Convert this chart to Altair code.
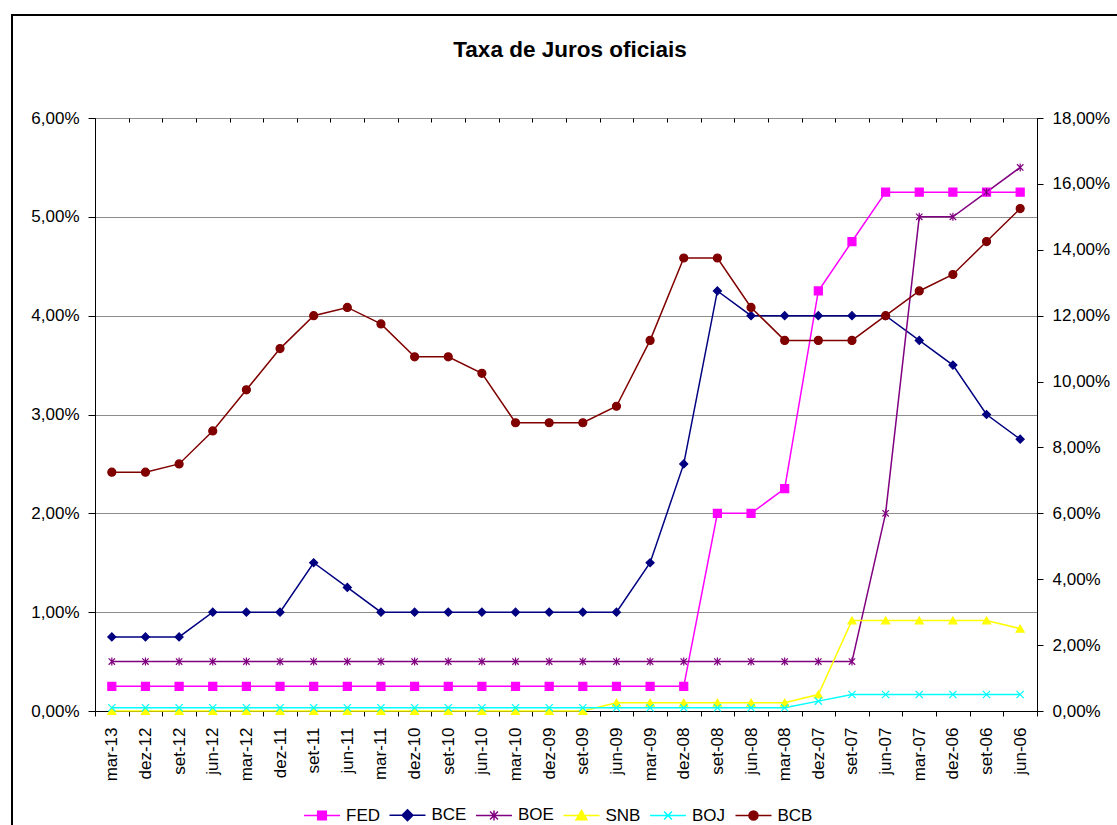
import altair as alt
import pandas as pd

# Trimestres, do mais recente ao mais antigo
periodos = ["mar-13", "dez-12", "set-12", "jun-12", "mar-12", "dez-11", "set-11",
            "jun-11", "mar-11", "dez-10", "set-10", "jun-10", "mar-10", "dez-09",
            "set-09", "jun-09", "mar-09", "dez-08", "set-08", "jun-08", "mar-08",
            "dez-07", "set-07", "jun-07", "mar-07", "dez-06", "set-06", "jun-06"]

# Eixo principal (0% a 6%)
fed = [0.25] * 18 + [2.00, 2.00, 2.25, 4.25, 4.75, 5.25, 5.25, 5.25, 5.25, 5.25]
bce = [0.75, 0.75, 0.75, 1.00, 1.00, 1.00, 1.50, 1.25, 1.00, 1.00, 1.00, 1.00,
       1.00, 1.00, 1.00, 1.00, 1.50, 2.50, 4.25, 4.00, 4.00, 4.00, 4.00, 4.00,
       3.75, 3.50, 3.00, 2.75]
boe = [0.50] * 23 + [2.00, 5.00, 5.00, 5.25, 5.50]

# Eixo secundário (0% a 18%)
snb = [0.00] * 15 + [0.25] * 6 + [0.50] + [2.75] * 5 + [2.50]
boj = [0.10] * 21 + [0.30] + [0.50] * 6
bcb = [7.25, 7.25, 7.50, 8.50, 9.75, 11.00, 12.00, 12.25, 11.75, 10.75, 10.75,
       10.25, 8.75, 8.75, 8.75, 9.25, 11.25, 13.75, 13.75, 12.25, 11.25, 11.25,
       11.25, 12.00, 12.75, 13.25, 14.25, 15.25]

ordem = ["FED", "BCE", "BOE", "SNB", "BOJ", "BCB"]
cores = ["#FF00FF", "#000080", "#800080", "#FFFF00", "#00FFFF", "#800000"]

ASTER = "M-0.8,-0.8L0.8,0.8M-0.8,0.8L0.8,-0.8M0,-1L0,1"
XIS = "M-0.9,-0.9L0.9,0.9M-0.9,0.9L0.9,-0.9"
formas = ["square", "diamond", ASTER, "triangle-up", XIS, "circle"]

# Símbolos da legenda: traço da linha com o marcador no meio
TRACO = "M-1,0L1,0"
formas_legenda = [
    TRACO + "M-0.24,-0.24L0.24,-0.24L0.24,0.24L-0.24,0.24Z",
    TRACO + "M0,-0.3L0.3,0L0,0.3L-0.3,0Z",
    TRACO + "M-0.22,-0.22L0.22,0.22M-0.22,0.22L0.22,-0.22M0,-0.28L0,0.28",
    TRACO + "M0,-0.28L0.3,0.24L-0.3,0.24Z",
    TRACO + "M-0.22,-0.22L0.22,0.22M-0.22,0.22L0.22,-0.22",
    TRACO + "M-0.25,0A0.25,0.25,0,1,1,0.25,0A0.25,0.25,0,1,1,-0.25,0Z",
]

linhas = []
for nome, vals, eixo in [("FED", fed, "esq"), ("BCE", bce, "esq"), ("BOE", boe, "esq"),
                         ("SNB", snb, "dir"), ("BOJ", boj, "dir"), ("BCB", bcb, "dir")]:
    for p, v in zip(periodos, vals):
        linhas.append({"periodo": p, "serie": nome, "valor": v, "eixo": eixo})
df = pd.DataFrame(linhas)

FONTE = "Liberation Sans"
ROTULO_PCT = "replace(format(datum.value, '.2f'), '.', ',') + '%'"

escala_x = alt.Scale(type="band", paddingInner=0, paddingOuter=0)
x_eixo = alt.X("periodo:N", sort=periodos, title=None, scale=escala_x,
               axis=alt.Axis(labelAngle=270, labelFontSize=17, labelFont=FONTE,
                             labelColor="black", tickSize=5, tickBand="extent",
                             tickColor="black", domainColor="black", labelPadding=11,
                             labelOverlap=False, grid=False))
x_sem_eixo = alt.X("periodo:N", sort=periodos, title=None, scale=escala_x, axis=None)

cor = alt.Color("serie:N", scale=alt.Scale(domain=ordem, range=cores), legend=None)
preench = alt.Fill("serie:N", scale=alt.Scale(domain=ordem, range=cores), legend=None)
contorno = alt.Stroke("serie:N", scale=alt.Scale(domain=ordem, range=cores), legend=None)
forma = alt.Shape("serie:N", scale=alt.Scale(domain=ordem, range=formas), legend=None)

y_esq = alt.Y("valor:Q", title=None,
              scale=alt.Scale(domain=[0, 6], nice=False, zero=True),
              axis=alt.Axis(orient="left", values=[0, 1, 2, 3, 4, 5, 6],
                            labelExpr=ROTULO_PCT, grid=True, gridColor="#8c8c8c",
                            gridWidth=1, tickSize=7, labelPadding=9,
                            tickColor="black", domainColor="black"))
y_dir = alt.Y("valor:Q", title=None,
              scale=alt.Scale(domain=[0, 18], nice=False, zero=True),
              axis=alt.Axis(orient="right", values=list(range(0, 19, 2)),
                            labelExpr=ROTULO_PCT, grid=False, tickSize=6,
                            labelPadding=9, tickColor="black", domainColor="black"))

base_esq = alt.Chart(df).transform_filter(alt.datum.eixo == "esq")
base_dir = alt.Chart(df).transform_filter(alt.datum.eixo == "dir")

camada_esq = alt.layer(
    base_esq.mark_line(strokeWidth=1.5).encode(x=x_eixo, y=y_esq, color=cor, detail="serie:N"),
    base_esq.mark_point(size=64, strokeWidth=1.2, opacity=1).encode(
        x=x_eixo, y=y_esq, fill=preench, stroke=contorno, shape=forma),
)
camada_dir = alt.layer(
    base_dir.mark_line(strokeWidth=1.5).encode(x=x_sem_eixo, y=y_dir, color=cor, detail="serie:N"),
    base_dir.mark_point(size=64, strokeWidth=1.2, opacity=1).encode(
        x=x_sem_eixo, y=y_dir, fill=preench, stroke=contorno, shape=forma),
)

# Legenda horizontal (marcas recortadas fora da área) e traços internos do eixo X
legenda = alt.Legend(orient="none", legendX=208, legendY=678, direction="horizontal",
                     title=None, labelFontSize=17, labelFont=FONTE, labelColor="black",
                     symbolSize=1296, symbolStrokeWidth=1.5, symbolOpacity=1,
                     labelOffset=5, columnPadding=6.5, padding=0)
escala_leg_cor = alt.Scale(domain=ordem, range=cores)
camada_legenda = alt.Chart(df).mark_point(clip=True, strokeWidth=1.5, size=64).encode(
    x=alt.X("periodo:N", sort=periodos, title=None, scale=escala_x,
            axis=alt.Axis(offset=-4, labels=False, domain=False, grid=False,
                          tickSize=4, tickBand="extent", tickColor="black")),
    y=alt.value(-60),
    fill=alt.Fill("serie:N", scale=escala_leg_cor, legend=legenda),
    stroke=alt.Stroke("serie:N", scale=escala_leg_cor, legend=legenda),
    shape=alt.Shape("serie:N", scale=alt.Scale(domain=ordem, range=formas_legenda),
                    legend=legenda),
)

# Moldura da área do gráfico
moldura = alt.Chart(pd.DataFrame({"m": [0]})).mark_rect(
    fill="transparent", stroke="black", strokeWidth=2
).encode(x=alt.value(-83), x2=alt.value(1300), y=alt.value(-103), y2=alt.value(1000))

chart = alt.layer(moldura, camada_esq, camada_dir, camada_legenda).resolve_scale(
    y="independent", shape="independent", fill="independent", stroke="independent"
).resolve_axis(x="independent").properties(
    width=942, height=593,
    title=alt.Title("Taxa de Juros oficiais", fontSize=22.5, font=FONTE,
                    fontWeight="bold", anchor="middle", color="black",
                    offset=-47, dx=4),
    autosize=alt.AutoSizeParams(type="none"),
    padding={"left": 95, "top": 118, "right": 80, "bottom": 114},
).configure_view(stroke=None).configure_axis(
    labelFont=FONTE, labelFontSize=17, labelColor="black"
)

chart.save("out.html", embed_options={"renderer": "svg", "actions": False})
